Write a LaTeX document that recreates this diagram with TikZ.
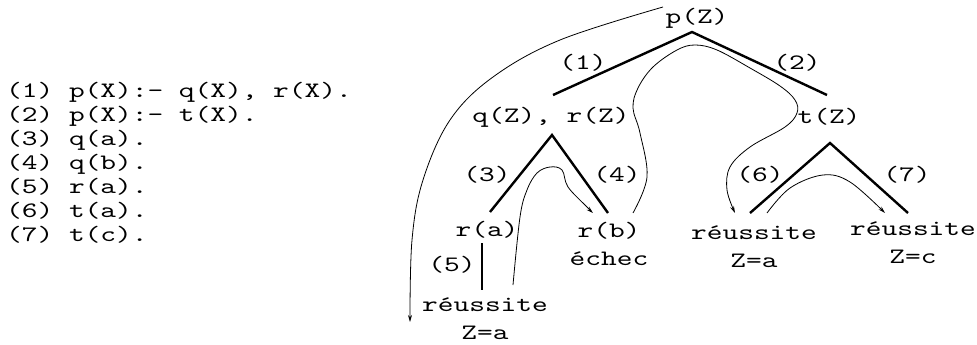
\documentclass[tikz,border=0pt]{standalone}
\usepackage{fontspec}
\setmainfont[FakeStretch=1.36]{lmmono10-regular.otf}
\usetikzlibrary{arrows.meta}
\begin{document}
\begin{tikzpicture}[x=1pt,y=-1pt,
  every node/.style={inner sep=0pt,font={\fontsize{22}{28}\selectfont}},
  term/.style={align=center},
  lbl/.style={},
  branch/.style={line width=2.4pt},
  trace/.style={line width=0.8pt,-{Stealth[length=7pt,width=4pt]}}]
\useasboundingbox (0,0) rectangle (977,345);
% program
\node[anchor=west,align=left,font={\fontsize{22}{24}\selectfont}] (prog) at (6,163) {(1) p(X):- q(X), r(X).\\(2) p(X):- t(X).\\(3) q(a).\\(4) q(b).\\(5) r(a).\\(6) t(a).\\(7) t(c).};
% tree nodes
\node[term] (pZ) at (697,18) {p(Z)};
\node[term] (qr) at (551,117) {q(Z), r(Z)};
\node[term] (tZ) at (829,117) {t(Z)};
\node[term] (ra) at (487,230) {r(a)};
\node[term] (rb) at (609,244) {r(b)\\échec};
\node[term] (s1) at (485,319) {réussite\\Z=a};
\node[term] (s2) at (754,247) {réussite\\Z=a};
\node[term] (s3) at (913,243) {réussite\\Z=c};
% labels
\node[lbl] (l1) at (583,63) {(1)};
\node[lbl] (l2) at (797,63) {(2)};
\node[lbl] (l3) at (487,175) {(3)};
\node[lbl] (l4) at (617,175) {(4)};
\node[lbl] (l5) at (452,265) {(5)};
\node[lbl] (l6) at (760,175) {(6)};
\node[lbl] (l7) at (907,175) {(7)};
% branch points
\coordinate (apP) at (692,32);
\coordinate (e1) at (553,95);
\coordinate (e2) at (827,95);
\coordinate (apQ) at (552,135);
\coordinate (e3) at (490,212);
\coordinate (e4) at (608,213);
\coordinate (e5a) at (482,243);
\coordinate (e5b) at (482,290);
\coordinate (apT) at (830,143);
\coordinate (e6) at (750,213);
\coordinate (e7) at (908,213);
\draw[branch] (e1) -- (apP) -- (e2);
\draw[branch] (e3) -- (apQ) -- (e4);
\draw[branch] (e5a) -- (e5b);
\draw[branch] (e6) -- (apT) -- (e7);
% traces
\draw[trace] plot[smooth,tension=0.6] coordinates {(663,7) (560,40) (493,77) (450,120) (423,180) (412,240) (410,322)};
\draw[trace] plot[smooth,tension=0.6] coordinates {(633,213) (647,177) (640,133) (633,108) (638,88) (653,67) (677,50) (695,45) (717,50) (750,68) (780,86) (795,100) (797,113) (785,127) (750,147) (730,167) (727,190) (735,213)};
\draw[trace] plot[smooth,tension=0.6] coordinates {(513,285) (520,217) (527,190) (537,173) (550,167) (562,170) (568,187) (587,207) (593,213)};
\draw[trace] plot[smooth,tension=0.6] coordinates {(767,213) (790,188) (823,175) (850,182) (885,213)};
\end{tikzpicture}
\end{document}
